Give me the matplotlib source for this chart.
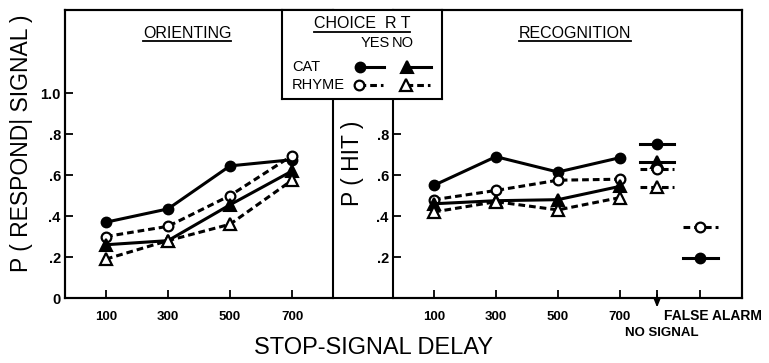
import matplotlib
matplotlib.use('Agg')
import matplotlib.pyplot as plt
from matplotlib.lines import Line2D

plt.rcParams['font.family'] = ['Liberation Sans', 'DejaVu Sans']

# ---------------- data ----------------
delays = [100, 300, 500, 700]
delay_labels = ['100', '300', '500', '700']

# Orienting task: P(respond | signal)
orient_cat_yes = [0.37, 0.435, 0.645, 0.675]
orient_rhyme_yes = [0.30, 0.35, 0.50, 0.695]
orient_cat_no = [0.26, 0.28, 0.455, 0.62]
orient_rhyme_no = [0.19, 0.28, 0.36, 0.575]

# Recognition task: P(hit)
recog_cat_yes = [0.55, 0.69, 0.615, 0.685]
recog_rhyme_yes = [0.48, 0.525, 0.575, 0.58]
recog_cat_no = [0.46, 0.475, 0.48, 0.545]
recog_rhyme_no = [0.42, 0.47, 0.43, 0.49]

# Recognition, no-signal trials
nosig_cat_yes = 0.75
nosig_cat_no = 0.665
nosig_rhyme_yes = 0.63
nosig_rhyme_no = 0.54

# Recognition, false alarms
fa_cat = 0.195
fa_rhyme = 0.345

y_ticks_left = [0, 0.2, 0.4, 0.6, 0.8, 1.0]
y_labels_left = ['0', '.2', '.4', '.6', '.8', '1.0']
y_ticks_right = [0.2, 0.4, 0.6, 0.8]
y_labels_right = ['.2', '.4', '.6', '.8']

# ---------------- layout / style ----------------
W, H = 769, 363
NOSIG_X = 820
FA_X = 960
HALF = 56
LW = 2.2
DASH = (2.2, 1.3)

STY = {
    'cat_yes': dict(color='black', ls='-', marker='o', ms=7, mfc='black', mec='black', mew=1.5),
    'rhyme_yes': dict(color='black', ls=(0, DASH), marker='o', ms=7, mfc='white', mec='black', mew=1.6),
    'cat_no': dict(color='black', ls='-', marker='^', ms=8, mfc='black', mec='black', mew=1.5),
    'rhyme_no': dict(color='black', ls=(0, DASH), marker='^', ms=8, mfc='white', mec='black', mew=1.6),
}

fig = plt.figure(figsize=(W / 100, H / 100), dpi=100)
fig.patch.set_facecolor('white')


def frac(x0, y0, x1, y1):
    return [x0 / W, 1 - y1 / H, (x1 - x0) / W, (y1 - y0) / H]


# outer frame
axbg = fig.add_axes(frac(65, 10, 742, 298), zorder=0)
axbg.set_xticks([])
axbg.set_yticks([])
for s in axbg.spines.values():
    s.set_linewidth(1.5)

ax1 = fig.add_axes(frac(65, 10, 333, 298), zorder=1)
ax2 = fig.add_axes(frac(393, 10, 742, 298), zorder=1)
for ax in (ax1, ax2):
    ax.patch.set_alpha(0)
    for s in ax.spines.values():
        s.set_linewidth(1.5)
    ax.set_ylim(0, 1.406)
    ax.tick_params(direction='in', length=6, width=1.3, pad=3)
    ax.tick_params(axis='x', pad=9, labelsize=9.5)
    ax.tick_params(axis='y', labelsize=10.5)

ax1.set_xlim(-32, 832)
ax2.set_xlim(-32, 1094)

ax1.set_xticks(delays, delay_labels)
ax1.set_yticks(y_ticks_left, y_labels_left)
ax2.set_xticks(delays + [NOSIG_X, FA_X], delay_labels + ['', ''])
ax2.set_yticks(y_ticks_right, y_labels_right)
for ax in (ax1, ax2):
    plt.setp(ax.get_xticklabels() + ax.get_yticklabels(), fontweight='bold')

# left panel
for vals, key in [(orient_cat_yes, 'cat_yes'), (orient_rhyme_yes, 'rhyme_yes'),
                  (orient_cat_no, 'cat_no'), (orient_rhyme_no, 'rhyme_no')]:
    ax1.plot(delays, vals, lw=LW, clip_on=False, zorder=3, **STY[key])

# right panel
for vals, key in [(recog_cat_yes, 'cat_yes'), (recog_rhyme_yes, 'rhyme_yes'),
                  (recog_cat_no, 'cat_no'), (recog_rhyme_no, 'rhyme_no')]:
    ax2.plot(delays, vals, lw=LW, clip_on=False, zorder=3, **STY[key])

for val, key, xpos in [(nosig_cat_yes, 'cat_yes', NOSIG_X), (nosig_cat_no, 'cat_no', NOSIG_X),
                       (nosig_rhyme_yes, 'rhyme_yes', NOSIG_X), (nosig_rhyme_no, 'rhyme_no', NOSIG_X),
                       (fa_rhyme, 'rhyme_yes', FA_X), (fa_cat, 'cat_yes', FA_X)]:
    ax2.plot([xpos - HALF, xpos, xpos + HALF], [val] * 3, lw=LW, markevery=[1],
             zorder=3, **STY[key])

# axis labels
ax1.set_ylabel('P ( RESPOND| SIGNAL )', fontsize=16.5, va='center')
ax1.yaxis.set_label_coords((22 - 65) / 268, (298 - 143) / 288)
ax2.set_ylabel('P ( HIT )', fontsize=16.5, va='center')
ax2.yaxis.set_label_coords((352 - 393) / 349, (298 - 163) / 288)
fig.text(374 / W, 1 - 348 / H, 'STOP-SIGNAL DELAY', fontsize=17, ha='center', va='center')

# NO SIGNAL / FALSE ALARM labels
ax2.annotate('', xy=(NOSIG_X, -0.06), xytext=(NOSIG_X, 0.03),
             arrowprops=dict(arrowstyle='-|>,head_width=0.18,head_length=0.45', color='black', lw=1.3),
             annotation_clip=False)
fig.text(664 / W, 1 - 316 / H, 'FALSE ALARM', fontsize=10, fontweight='bold', ha='left', va='center')
fig.text(662 / W, 1 - 333 / H, 'NO SIGNAL', fontsize=9.5, fontweight='bold', ha='center', va='center')

# panel titles
t1 = ax1.text((187 - 65) / 268, (298 - 33) / 288, 'ORIENTING', fontsize=11.5,
              ha='center', va='center', transform=ax1.transAxes)
t2 = ax2.text((575 - 393) / 349, (298 - 33) / 288, 'RECOGNITION', fontsize=11.5,
              ha='center', va='center', transform=ax2.transAxes)

# legend box
axl = fig.add_axes(frac(282, 10, 442, 99), zorder=5)
axl.set_facecolor('white')
axl.set_xlim(0, 160)
axl.set_ylim(89, 0)
axl.set_xticks([])
axl.set_yticks([])
for s in axl.spines.values():
    s.set_linewidth(1.5)
t3 = axl.text(80, 14, 'CHOICE  R T', fontsize=11.5, ha='center', va='center')
axl.text(93, 33, 'YES', fontsize=10.5, ha='center', va='center')
axl.text(121, 33, 'NO', fontsize=10.5, ha='center', va='center')
axl.text(10, 57, 'CAT', fontsize=10.5, ha='left', va='center')
axl.text(10, 75, 'RHYME', fontsize=10.5, ha='left', va='center')
for key, x0, yy in [('cat_yes', 78, 57), ('cat_no', 125, 57), ('rhyme_yes', 77, 75), ('rhyme_no', 124, 75)]:
    axl.plot([x0, x0 + 24], [yy, yy], lw=LW, markevery=[0], **STY[key])

# underlines
fig.canvas.draw()
r = fig.canvas.get_renderer()
inv = fig.transFigure.inverted()
for t in (t1, t2, t3):
    bb = t.get_window_extent(r)
    yl = bb.y0 - 0.5
    (xa, ya), (xb, yb) = inv.transform([(bb.x0, yl), (bb.x1, yl)])
    fig.add_artist(Line2D([xa, xb], [ya, yb], color='black', lw=1.3, zorder=6))

fig.savefig('out.png', dpi=100)
